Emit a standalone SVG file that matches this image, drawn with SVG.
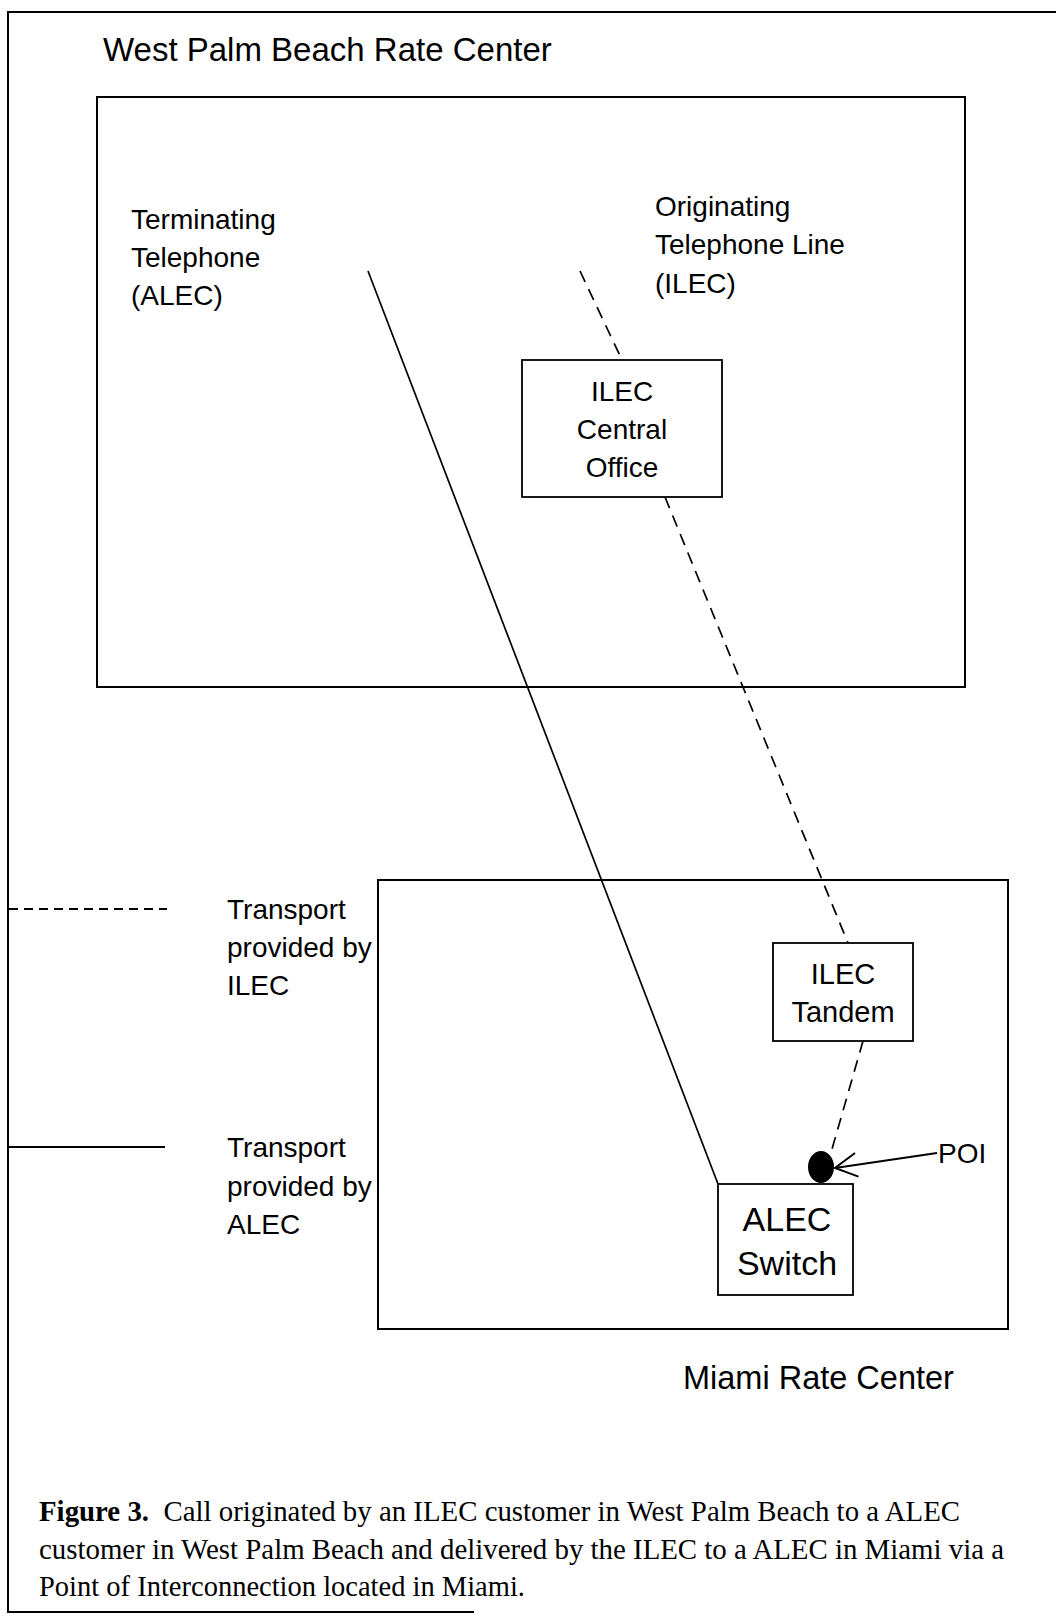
<svg xmlns="http://www.w3.org/2000/svg" width="1056" height="1616" viewBox="0 0 1056 1616">
<style>
  .frame { fill: none; stroke: #000; stroke-width: 2; }
  .box { fill: #fff; stroke: #000; stroke-width: 1.8; }
  .region { fill: none; stroke: #000; stroke-width: 2; }
  .lbl { font-family: "Liberation Sans", Arial, sans-serif; font-size: 28px; fill: #000; }
  .title { font-family: "Liberation Sans", Arial, sans-serif; font-size: 33px; fill: #000; }
  .cap { font-family: "Liberation Serif", "Times New Roman", serif; font-size: 29px; fill: #000; }
  .solid { fill: none; stroke: #000; stroke-width: 1.7; }
  .dash { fill: none; stroke: #000; stroke-width: 1.7; stroke-dasharray: 12 8; }
  .legdash { fill: none; stroke: #000; stroke-width: 2; stroke-dasharray: 9 6; }
</style>
<defs>
  <marker id="openArrow" markerUnits="userSpaceOnUse" markerWidth="26" markerHeight="28" viewBox="0 0 26 28" refX="24" refY="14" orient="auto">
    <path d="M2,2 L24,14 L2,26" fill="none" stroke="#000" stroke-width="2"/>
  </marker>
</defs>
<rect width="1056" height="1616" fill="#fff"/>

<g id="outer-frame">
  <path class="frame" d="M1056,12 L8,12 L8,1612 L474,1612"/>
</g>

<g id="west-palm-beach-rate-center">
  <rect class="region" x="97" y="97" width="868" height="590"/>
  <text class="title" x="103" y="61">West Palm Beach Rate Center</text>
</g>

<g id="miami-rate-center">
  <rect class="region" x="378" y="880" width="630" height="449"/>
  <text class="title" x="683" y="1389" style="font-size:32.5px">Miami Rate Center</text>
</g>

<g id="terminating-telephone">
  <text class="lbl" x="131" y="229">Terminating</text>
  <text class="lbl" x="131" y="267">Telephone</text>
  <text class="lbl" x="131" y="305">(ALEC)</text>
</g>

<g id="originating-telephone-line">
  <text class="lbl" x="655" y="216">Originating</text>
  <text class="lbl" x="655" y="254">Telephone Line</text>
  <text class="lbl" x="655" y="293">(ILEC)</text>
</g>

<g id="connectors">
  <line class="solid" x1="368" y1="271" x2="718" y2="1184"/>
  <line class="dash" x1="580" y1="271" x2="622" y2="360"/>
  <line class="dash" x1="665" y1="497" x2="848" y2="943"/>
  <line class="dash" x1="863" y1="1041" x2="830" y2="1156"/>
  <line class="solid" x1="937" y1="1153" x2="835" y2="1168" style="stroke-width:2" marker-end="url(#openArrow)"/>
</g>

<g id="ilec-central-office">
  <rect class="box" x="522" y="360" width="200" height="137"/>
  <text class="lbl" x="622" y="401" text-anchor="middle">ILEC</text>
  <text class="lbl" x="622" y="439" text-anchor="middle">Central</text>
  <text class="lbl" x="622" y="477" text-anchor="middle">Office</text>
</g>

<g id="ilec-tandem">
  <rect class="box" x="773" y="943" width="140" height="98"/>
  <text class="lbl" x="843" y="984" text-anchor="middle" style="font-size:29px">ILEC</text>
  <text class="lbl" x="843" y="1022" text-anchor="middle" style="font-size:29px">Tandem</text>
</g>

<g id="alec-switch">
  <rect class="box" x="718" y="1184" width="135" height="111"/>
  <text class="lbl" x="787" y="1231" text-anchor="middle" style="font-size:34px">ALEC</text>
  <text class="lbl" x="787" y="1275" text-anchor="middle" style="font-size:34px">Switch</text>
</g>

<g id="poi">
  <ellipse cx="821" cy="1167" rx="13" ry="16" fill="#000"/>
  <text class="lbl" x="938" y="1163">POI</text>
</g>

<g id="legend-ilec">
  <line class="legdash" x1="9" y1="909" x2="167" y2="909"/>
  <text class="lbl" x="227" y="919">Transport</text>
  <text class="lbl" x="227" y="957">provided by</text>
  <text class="lbl" x="227" y="995">ILEC</text>
</g>

<g id="legend-alec">
  <line class="solid" x1="9" y1="1147" x2="165" y2="1147" style="stroke-width:2"/>
  <text class="lbl" x="227" y="1157">Transport</text>
  <text class="lbl" x="227" y="1196">provided by</text>
  <text class="lbl" x="227" y="1234">ALEC</text>
</g>

<g id="caption">
  <text class="cap" x="39" y="1521" textLength="921" lengthAdjust="spacingAndGlyphs"><tspan font-weight="bold">Figure 3.</tspan>&#160; Call originated by an ILEC customer in West Palm Beach to a ALEC</text>
  <text class="cap" x="39" y="1559" textLength="965" lengthAdjust="spacingAndGlyphs">customer in West Palm Beach and delivered by the ILEC to a ALEC in Miami via a</text>
  <text class="cap" x="39" y="1596" textLength="486" lengthAdjust="spacingAndGlyphs">Point of Interconnection located in Miami.</text>
</g>
</svg>
